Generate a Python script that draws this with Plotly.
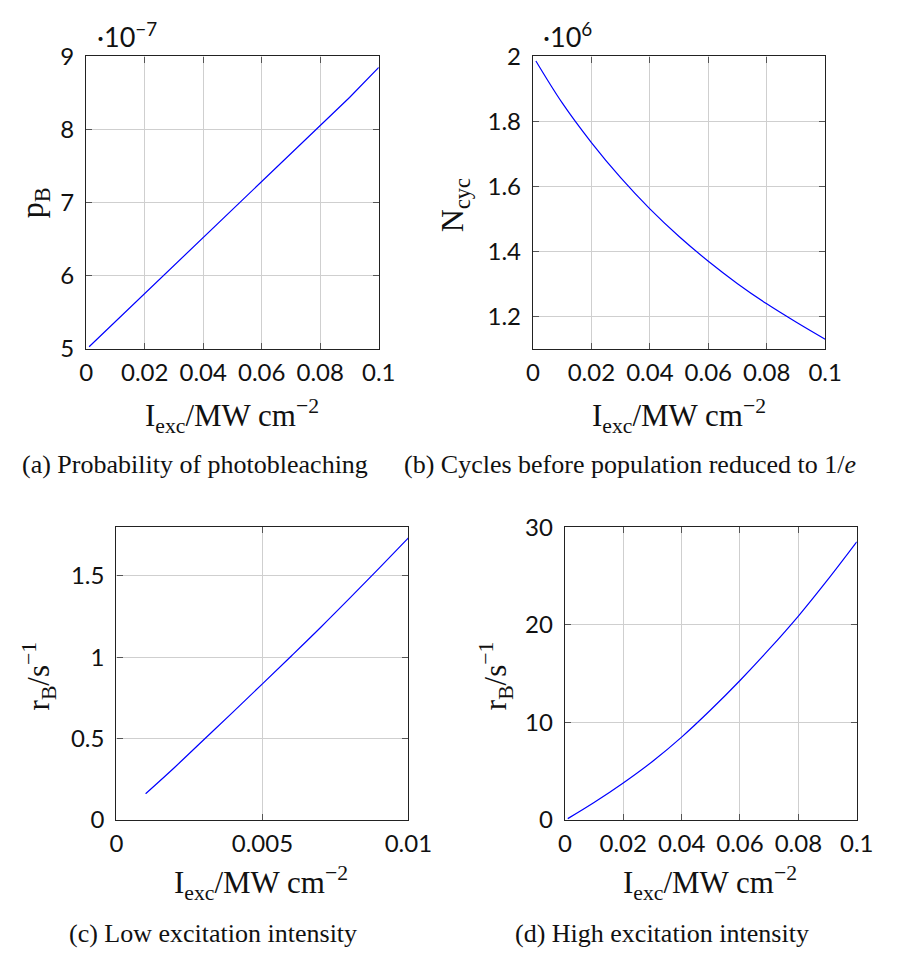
import plotly.graph_objects as go

# ---- data ----
x_a = [0.001, 0.01, 0.02, 0.03, 0.04, 0.05, 0.06, 0.07, 0.08, 0.09, 0.1]
pB = [5.03, 5.375, 5.758, 6.141, 6.524, 6.907, 7.29, 7.673, 8.056, 8.439, 8.85]          # x 1e-7

x_b = [0.001, 0.01, 0.02, 0.03, 0.04, 0.05, 0.06, 0.07, 0.08, 0.09, 0.1]
Ncyc = [1.986, 1.857, 1.735, 1.627, 1.531, 1.446, 1.370, 1.301, 1.239, 1.183, 1.130]  # x 1e6

x_c = [0.001, 0.002, 0.003, 0.004, 0.005, 0.006, 0.007, 0.008, 0.009, 0.01]
rB_low = [0.162, 0.325, 0.495, 0.665, 0.837, 1.01, 1.185, 1.365, 1.548, 1.734]

x_d = [0.001, 0.01, 0.02, 0.03, 0.04, 0.05, 0.06, 0.07, 0.08, 0.09, 0.1]
rB_high = [0.15, 1.8, 3.8, 6.0, 8.5, 11.3, 14.3, 17.5, 20.9, 24.6, 28.5]

xt_full = [0, 0.02, 0.04, 0.06, 0.08, 0.1]
xt_full_txt = ["0", "0.02", "0.04", "0.06", "0.08", "0.1"]
xt_low = [0, 0.005, 0.01]
xt_low_txt = ["0", "0.005", "0.01"]
yt_a = [5, 6, 7, 8, 9]
yt_b = [1.2, 1.4, 1.6, 1.8, 2.0]
yt_b_txt = ["1.2", "1.4", "1.6", "1.8", "2"]
yt_c = [0, 0.5, 1, 1.5]
yt_c_txt = ["0", "0.5", "1", "1.5"]
yt_d = [0, 10, 20, 30]

W, H = 902, 965
TICKFAM = "Lato, Noto Sans, sans-serif"
TICKFONT = dict(family=TICKFAM, size=24, color="#111")
SERIF = "Liberation Serif, DejaVu Serif, serif"
BLUE = "#0000ff"

def px(v):
    return v / W

def py(v):
    return 1 - v / H

fig = go.Figure()
fig.add_trace(go.Scatter(x=x_a, y=pB, mode="lines", line=dict(color=BLUE, width=1.2),
                         xaxis="x", yaxis="y", showlegend=False))
fig.add_trace(go.Scatter(x=x_b, y=Ncyc, mode="lines", line=dict(color=BLUE, width=1.2, shape="spline"),
                         xaxis="x2", yaxis="y2", showlegend=False))
fig.add_trace(go.Scatter(x=x_c, y=rB_low, mode="lines", line=dict(color=BLUE, width=1.2, shape="spline"),
                         xaxis="x3", yaxis="y3", showlegend=False))
fig.add_trace(go.Scatter(x=x_d, y=rB_high, mode="lines", line=dict(color=BLUE, width=1.2, shape="spline"),
                         xaxis="x4", yaxis="y4", showlegend=False))

def ax(dom, rng, tv, tt, anchor, standoff):
    return dict(domain=dom, range=rng, tickvals=tv, ticktext=tt, anchor=anchor,
                showgrid=True, gridcolor="#cfcfcf", gridwidth=1,
                showline=True, linecolor="#222", linewidth=1.3, mirror="ticks",
                ticks="inside", ticklen=6, tickcolor="#555", tickwidth=1,
                tickfont=TICKFONT, zeroline=False, ticklabelstandoff=standoff)

top_dom = [py(343.3), py(41.7)]
bot_dom = [py(829), py(527)]

fig.update_layout(
    width=W, height=H, margin=dict(l=0, r=0, t=0, b=0),
    paper_bgcolor="white", plot_bgcolor="white",
    xaxis=ax([px(82), px(385)], [0, 0.1], xt_full, xt_full_txt, "y", 2),
    yaxis=ax(top_dom, [5, 9], yt_a, [str(v) for v in yt_a], "x", 6),
    xaxis2=ax([px(544.7), px(847.3)], [0, 0.1], xt_full, xt_full_txt, "y2", 2),
    yaxis2=ax(top_dom, [1.1, 2.0], yt_b, yt_b_txt, "x2", 6),
    xaxis3=ax([px(113.3), px(415.7)], [0, 0.01], xt_low, xt_low_txt, "y3", 2),
    yaxis3=ax(bot_dom, [0, 1.8], yt_c, yt_c_txt, "x3", 6),
    xaxis4=ax([px(577.7), px(880)], [0, 0.1], xt_full, xt_full_txt, "y4", 2),
    yaxis4=ax(bot_dom, [0, 30], yt_d, [str(v) for v in yt_d], "x4", 6),
)

xtitle = "I<sub>exc</sub>/MW cm<sup>−2</sup>"
ann = []

def text(x, y, s, size, family=SERIF, angle=0, xanchor="center"):
    ann.append(dict(x=px(x), y=py(y), xref="paper", yref="paper", text=s, showarrow=False,
                    font=dict(family=family, size=size, color="#111"), textangle=angle,
                    xanchor=xanchor, yanchor="middle"))

# x-axis titles
text(233, 412, xtitle, 31)
text(696, 412, xtitle, 31)
text(263, 894, xtitle, 31)
text(728, 894, xtitle, 31)
# y-axis titles
text(28, 193, "p<sub>B</sub>", 32, angle=-90)
text(463, 195, "N<sub>cyc</sub>", 32, angle=-90)
text(33, 680, "r<sub>B</sub>/s<sup>−1</sup>", 31, angle=-90)
text(506, 680, "r<sub>B</sub>/s<sup>−1</sup>", 31, angle=-90)
# exponent labels
text(91, 20, "·10<sup>−7</sup>", 27, family=TICKFAM, xanchor="left")
text(553, 20, "·10<sup>6</sup>", 27, family=TICKFAM, xanchor="left")
# captions
text(195, 462, "(a) Probability of photobleaching", 26)
text(645, 462, "(b) Cycles before population reduced to 1/<i>e</i>", 26)
text(213, 946, "(c) Low excitation intensity", 26)
text(678, 946, "(d) High excitation intensity", 26)

fig.update_layout(annotations=ann)
fig.write_html("out.html")
